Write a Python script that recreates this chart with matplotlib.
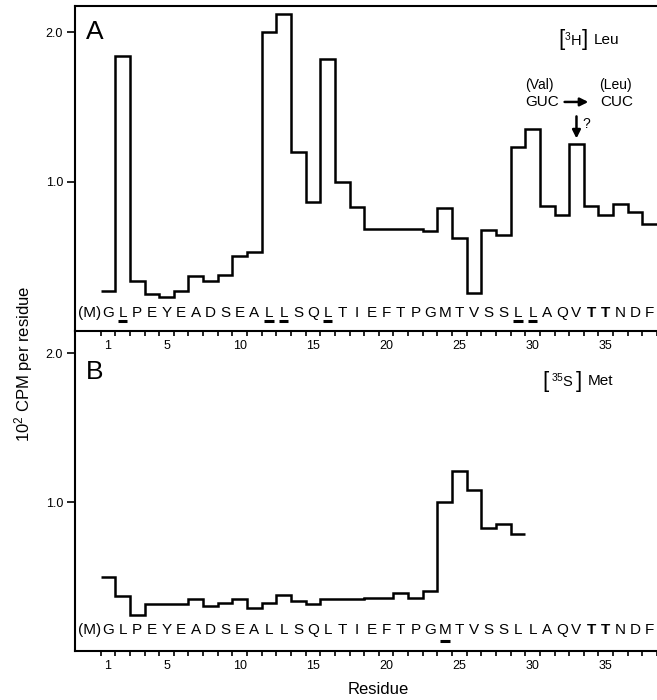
import numpy as np
import matplotlib
matplotlib.use('Agg')
import matplotlib.pyplot as plt

plt.rcParams['font.family'] = ['Liberation Sans', 'DejaVu Sans']
plt.rcParams['mathtext.fontset'] = 'custom'
plt.rcParams['mathtext.rm'] = 'Liberation Sans'
plt.rcParams['mathtext.it'] = 'Liberation Sans:italic'
plt.rcParams['mathtext.bf'] = 'Liberation Sans:bold'

# sequence, index 0 is the initiator (M)
sequence = ['(M)', 'G', 'L', 'P', 'E', 'Y', 'E', 'A', 'D', 'S', 'E', 'A', 'L', 'L',
            'S', 'Q', 'L', 'T', 'I', 'E', 'F', 'T', 'P', 'G', 'M', 'T', 'V', 'S',
            'S', 'L', 'L', 'A', 'Q', 'V', 'T', 'T', 'N', 'D', 'F']
underlined_a = [2, 12, 13, 16, 29, 30]
underlined_b = [24]
bold_residues = [34, 35]

# [3H] Leu, residues 1..38 (10^2 CPM)
leu_cpm = [0.27, 1.84, 0.333, 0.248, 0.23, 0.266, 0.37, 0.333, 0.374, 0.504,
           0.531, 2.0, 2.12, 1.20, 0.861, 1.82, 1.00, 0.832, 0.68, 0.685,
           0.685, 0.68, 0.67, 0.823, 0.62, 0.254, 0.678, 0.645, 1.234, 1.352,
           0.839, 0.776, 1.252, 0.839, 0.776, 0.85, 0.794, 0.716]

# [35S] Met, residues 1..29
met_cpm = [0.50, 0.373, 0.244, 0.315, 0.315, 0.315, 0.349, 0.304, 0.322, 0.351,
           0.293, 0.322, 0.378, 0.338, 0.317, 0.349, 0.349, 0.349, 0.36, 0.36,
           0.389, 0.36, 0.407, 1.0, 1.21, 1.08, 0.825, 0.854, 0.79]

xtick_labels = [1, 5, 10, 15, 20, 25, 30, 35]
ytick_vals = [1.0, 2.0]


def style_axis(ax, ytop):
    ax.set_xlim(-1.27, 38.07)
    ax.set_ylim(0, ytop)
    ax.spines['right'].set_visible(False)
    for s in ax.spines.values():
        s.set_linewidth(1.5)
    ax.set_yticks(ytick_vals)
    ax.set_yticklabels(['%.1f' % v for v in ytick_vals])
    ax.set_xticks(xtick_labels)
    ax.set_xticklabels([str(v) for v in xtick_labels])
    ax.set_xticks(np.arange(0.5, 39, 1.0), minor=True)
    ax.tick_params(axis='x', which='major', length=0, pad=6.5, labelsize=9)
    ax.tick_params(axis='x', which='minor', length=3.8, width=1.2, direction='out')
    ax.tick_params(axis='y', which='major', length=5.8, width=1.2, pad=2.5, labelsize=9)


def draw_sequence(ax, y_text, y_line, underlined):
    for i, aa in enumerate(sequence):
        weight = 'bold' if i in bold_residues else 'normal'
        x = i - 0.25 if i == 0 else i
        ax.text(x, y_text, aa, ha='center', va='center', fontsize=11,
                fontweight=weight)
    for i in underlined:
        ax.hlines(y_line, i - 0.33, i + 0.33, color='k', lw=2.2)


def isotope_label(ax, x0, x1, y, iso, aa):
    # bracketed isotope with tall brackets, then amino acid name
    ax.text(x0, y, '[', fontsize=16, ha='left', va='center')
    ax.text(x1, y, ']', fontsize=16, ha='right', va='center')
    ax.text((x0 + x1) / 2, y, iso, fontsize=10.5, ha='center', va='center')
    ax.text(x1 + 0.35, y, aa, fontsize=11, ha='left', va='center')


fig = plt.figure(figsize=(6.57, 7.0), dpi=100)
left = 74.7 / 657
ax_b = fig.add_axes([left, 0.0696, 1 - left, 0.4575])
ax_a = fig.add_axes([left, 0.5271, 1 - left, 0.4643])
ax_a.patch.set_visible(False)
ax_b.patch.set_visible(False)

# panel A
edges_a = np.arange(len(leu_cpm) + 1) + 0.5
ax_a.stairs(leu_cpm, edges_a, baseline=None, color='k', lw=1.8)
style_axis(ax_a, 2.175)
draw_sequence(ax_a, 0.118, 0.065, underlined_a)
ax_a.text(0.1, 2.0, 'A', fontsize=19, ha='center', va='center')
isotope_label(ax_a, 31.75, 33.8, 1.95, r'$^{3}$H', 'Leu')
ax_a.text(30.5, 1.647, '(Val)', fontsize=10, ha='center', va='center')
ax_a.text(30.64, 1.533, 'GUC', fontsize=11, ha='center', va='center')
ax_a.text(35.64, 1.647, '(Leu)', fontsize=10, ha='center', va='center')
ax_a.text(35.78, 1.533, 'CUC', fontsize=11, ha='center', va='center')
ax_a.annotate('', xy=(34.0, 1.533), xytext=(32.0, 1.533),
              arrowprops=dict(arrowstyle='-|>', color='k', lw=1.8, mutation_scale=12))
ax_a.annotate('', xy=(33.0, 1.27), xytext=(33.0, 1.455),
              arrowprops=dict(arrowstyle='-|>', color='k', lw=1.8, mutation_scale=12))
ax_a.text(33.65, 1.386, '?', fontsize=10, ha='center', va='center')

# panel B
edges_b = np.arange(len(met_cpm) + 1) + 0.5
ax_b.stairs(met_cpm, edges_b, baseline=None, color='k', lw=1.8)
style_axis(ax_b, 2.15)
ax_b.spines['top'].set_visible(False)
draw_sequence(ax_b, 0.145, 0.066, underlined_b)
ax_b.text(0.1, 1.875, 'B', fontsize=19, ha='center', va='center')
isotope_label(ax_b, 30.7, 33.4, 1.814, r'$^{35}$S', 'Met')

fig.text(24 / 657, 1 - 364 / 700, r'10$^2$ CPM per residue', rotation=90,
         ha='center', va='center', fontsize=12)
fig.text(378 / 657, 1 - 689 / 700, 'Residue', ha='center', va='center', fontsize=12)

fig.savefig('out.png', dpi=100)
